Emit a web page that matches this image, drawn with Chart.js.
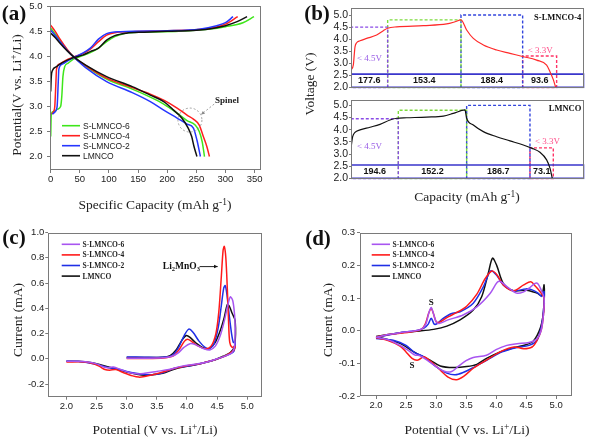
<!DOCTYPE html>
<html><head><meta charset="utf-8">
<script src="https://cdn.jsdelivr.net/npm/chart.js@4.4.0/dist/chart.umd.min.js"></script>
<style>
html,body{margin:0;padding:0;background:#fff;width:614px;height:444px;overflow:hidden;position:relative}
canvas{position:absolute}
.t{position:absolute;white-space:nowrap;font-family:"Liberation Serif","DejaVu Serif",serif;color:#222;transform:translate(-50%,-50%);line-height:1}
.rot{transform:translate(-50%,-50%) rotate(-90deg)}
.pl{font-weight:bold;font-size:21px;color:#111}
.ax{font-size:13.5px}
sup{font-size:70%;vertical-align:0;position:relative;top:-0.45em}
</style></head><body>
<canvas id="ca"></canvas><canvas id="cb1"></canvas><canvas id="cb2"></canvas><canvas id="cc"></canvas><canvas id="cd"></canvas>
<div class="t pl" style="left:14px;top:13px">(a)</div>
<div class="t pl" style="left:317px;top:13px">(b)</div>
<div class="t pl" style="left:14px;top:237px">(c)</div>
<div class="t pl" style="left:318px;top:238px">(d)</div>
<div class="t ax" style="left:155px;top:205px">Specific Capacity (mAh g<sup>-1</sup>)</div>
<div class="t ax rot" style="left:17px;top:95px">Potential(V vs. Li<sup>+</sup>/Li)</div>
<div class="t ax" style="left:467px;top:197px">Capacity (mAh g<sup>-1</sup>)</div>
<div class="t ax rot" style="left:310px;top:84px">Voltage (V)</div>
<div class="t ax" style="left:155px;top:430px">Potential (V vs. Li<sup>+</sup>/Li)</div>
<div class="t ax rot" style="left:18px;top:320px">Current (mA)</div>
<div class="t ax" style="left:467px;top:430px">Potential (V vs. Li<sup>+</sup>/Li)</div>
<div class="t ax rot" style="left:328px;top:320px">Current (mA)</div>
<script>
// ================= DATA =================
const seriesNames = ['S-LMNCO-6', 'S-LMNCO-4', 'S-LMNCO-2', 'LMNCO'];

// (a) first charge / discharge profiles: [capacity mAh/g, potential V]
const aChargeS6 = [[0,2.4],[1,2.85],[5,2.9],[12,2.95],[17,3.0],[19,3.2],[21,3.6],[24,3.8],[30,3.87],[39,3.95],[55,4.02],[68,4.08],[82,4.17],[96,4.3],[110,4.4],[125,4.46],[160,4.49],[220,4.51],[270,4.55],[300,4.6],[330,4.68],[349,4.8]];
const aChargeS4 = [[2,2.85],[5,2.9],[7,3.0],[9,3.5],[10,3.75],[15,3.85],[25,3.92],[39,3.99],[55,4.06],[68,4.15],[82,4.3],[96,4.43],[110,4.48],[140,4.5],[200,4.52],[250,4.54],[280,4.58],[300,4.65],[321,4.8]];
const aChargeS2 = [[3,2.85],[8,2.9],[11,3.0],[13,3.5],[14,3.75],[20,3.85],[30,3.92],[39,3.98],[55,4.07],[68,4.17],[82,4.35],[96,4.46],[120,4.5],[200,4.52],[255,4.55],[285,4.62],[300,4.68],[313,4.8]];
const aChargeL  = [[0,3.3],[1,3.6],[3,3.72],[10,3.8],[20,3.88],[39,3.98],[55,4.03],[68,4.1],[82,4.17],[96,4.33],[110,4.42],[130,4.47],[160,4.49],[200,4.51],[250,4.53],[280,4.57],[300,4.62],[320,4.7],[337,4.8]];
const aDischS6 = [[0,4.57],[8,4.45],[16,4.32],[28,4.14],[39,4.0],[60,3.81],[96,3.55],[140,3.35],[171,3.19],[194,3.05],[217,2.87],[234,2.72],[248,2.63],[255,2.5],[260,2.3],[264,2.0]];
const aDischS4 = [[0,4.63],[8,4.5],[16,4.35],[28,4.15],[39,4.0],[60,3.82],[96,3.57],[140,3.38],[171,3.25],[194,3.13],[217,2.97],[234,2.83],[245,2.75],[255,2.63],[262,2.4],[268,2.2],[272.5,2.0]];
const aDischS2 = [[0,4.53],[8,4.42],[16,4.3],[28,4.13],[39,4.0],[60,3.78],[96,3.5],[140,3.28],[171,3.1],[194,2.93],[217,2.77],[234,2.65],[245,2.57],[251,2.33],[257,2.0]];
const aDischL  = [[0,4.47],[8,4.38],[16,4.27],[28,4.12],[39,4.0],[60,3.83],[96,3.6],[140,3.4],[171,3.23],[194,3.1],[211,2.93],[225,2.77],[236,2.57],[242,2.4],[246,2.2],[251,2.0]];
const aXTicks = [0,50,100,150,200,250,300,350];
const aYTicks = [2.0,2.5,3.0,3.5,4.0,4.5,5.0];
const aSpinelCircle = [239, 2.73];
const aSpinelLabel = [282, 3.12];
const aSpinelArrow = [[280.6,3.05],[258.2,2.84]];

// (b) capacity segmentation (capacity axis 0..700 along charge+discharge)
const bTopCurve = [[0,2.72],[7,2.93],[10,3.4],[12,3.68],[17,3.85],[27,3.93],[47,4.03],[77,4.17],[97,4.35],[110,4.45],[137,4.51],[217,4.56],[287,4.63],[312,4.72],[330,4.8],[347,4.38],[367,4.03],[397,3.76],[437,3.55],[477,3.41],[515,3.28],[557,3.13],[587,2.92],[597,2.65],[607,2.32],[614,2.0]];
const bBotCurve = [[0,3.24],[5,3.71],[12,3.89],[27,3.99],[57,4.1],[87,4.22],[117,4.4],[137,4.47],[167,4.49],[227,4.52],[277,4.56],[307,4.67],[342,4.81],[347,4.47],[367,4.19],[397,3.92],[437,3.71],[477,3.54],[517,3.37],[542,3.24],[567,3.07],[587,2.76],[597,2.42],[604,2.0]];
const bTopEdges = [0,110,330,515,617];
const bTopLevels = [4.5,4.8,5.0,3.3];
const bTopValues = ['177.6','153.4','188.4','93.6'];
const bBotEdges = [0,142,347,537,607];
const bBotLevels = [4.45,4.8,5.0,3.25];
const bBotValues = ['194.6','152.2','186.7','73.1'];
const bBandRange = [2.0, 2.55];
const bYTicks = [2.0,2.5,3.0,3.5,4.0,4.5,5.0];
const bSampleTop = 'S-LMNCO-4';
const bSampleBot = 'LMNCO';

// (c) first CV cycle: [potential V, current mA]
const cS6 = [[3.0,0.005],[3.3,0.005],[3.6,0.008],[3.75,0.02],[3.85,0.045],[3.95,0.09],[4.05,0.12],[4.15,0.11],[4.28,0.08],[4.38,0.07],[4.47,0.1],[4.55,0.18],[4.62,0.3],[4.68,0.43],[4.72,0.49],[4.76,0.46],[4.79,0.35],[4.8,0.25],[4.79,0.1],[4.75,0.05],[4.65,0.025],[4.5,0.0],[4.3,-0.03],[4.1,-0.045],[3.9,-0.06],[3.7,-0.085],[3.5,-0.1],[3.3,-0.115],[3.2,-0.12],[3.05,-0.11],[2.9,-0.085],[2.78,-0.065],[2.7,-0.07],[2.62,-0.065],[2.5,-0.04],[2.35,-0.025],[2.2,-0.02],[2.0,-0.02]];
const cS4 = [[3.0,0.003],[3.4,0.003],[3.65,0.008],[3.78,0.025],[3.88,0.08],[3.96,0.14],[4.01,0.155],[4.07,0.14],[4.17,0.105],[4.3,0.08],[4.4,0.1],[4.48,0.2],[4.53,0.38],[4.57,0.65],[4.6,0.86],[4.62,0.89],[4.645,0.8],[4.67,0.55],[4.69,0.3],[4.71,0.13],[4.75,0.09],[4.8,0.1],[4.78,0.07],[4.7,0.04],[4.6,0.015],[4.45,-0.01],[4.25,-0.035],[4.0,-0.055],[3.8,-0.075],[3.6,-0.105],[3.45,-0.125],[3.3,-0.14],[3.2,-0.145],[3.1,-0.135],[2.95,-0.11],[2.82,-0.085],[2.72,-0.09],[2.64,-0.085],[2.55,-0.06],[2.45,-0.04],[2.3,-0.025],[2.0,-0.025]];
const cS2 = [[3.0,0.015],[3.3,0.012],[3.6,0.012],[3.75,0.025],[3.85,0.08],[3.95,0.18],[4.03,0.235],[4.1,0.21],[4.2,0.14],[4.3,0.09],[4.37,0.08],[4.45,0.12],[4.52,0.25],[4.57,0.42],[4.61,0.56],[4.635,0.58],[4.66,0.52],[4.7,0.35],[4.74,0.2],[4.77,0.13],[4.8,0.13],[4.78,0.06],[4.7,0.035],[4.6,0.015],[4.45,-0.01],[4.25,-0.035],[4.0,-0.06],[3.8,-0.075],[3.6,-0.11],[3.45,-0.125],[3.3,-0.125],[3.15,-0.115],[3.0,-0.1],[2.85,-0.08],[2.7,-0.07],[2.55,-0.05],[2.4,-0.035],[2.2,-0.022],[2.0,-0.02]];
const cL = [[3.0,0.01],[3.3,0.01],[3.6,0.012],[3.72,0.025],[3.82,0.07],[3.92,0.15],[3.99,0.185],[4.05,0.17],[4.15,0.125],[4.28,0.085],[4.38,0.085],[4.47,0.13],[4.55,0.22],[4.62,0.33],[4.67,0.43],[4.7,0.42],[4.75,0.36],[4.8,0.3],[4.79,0.1],[4.72,0.05],[4.6,0.02],[4.45,-0.01],[4.25,-0.035],[4.0,-0.06],[3.8,-0.08],[3.6,-0.115],[3.45,-0.125],[3.3,-0.13],[3.15,-0.12],[3.0,-0.105],[2.85,-0.085],[2.7,-0.065],[2.55,-0.045],[2.4,-0.03],[2.2,-0.02],[2.0,-0.02]];
const cXTicks = [2.0,2.5,3.0,3.5,4.0,4.5,5.0];
const cYTicks = [-0.2,0.0,0.2,0.4,0.6,0.8,1.0];
const cLabelAt = [3.6, 0.73];
const cArrow = [[4.21,0.73],[4.51,0.73]];

// (d) CV after cycling: [potential V, current mA]
const dS6 = [[2.0,-0.02],[2.2,-0.012],[2.4,-0.006],[2.6,-0.002],[2.75,0.004],[2.83,0.02],[2.88,0.055],[2.92,0.071],[2.96,0.05],[3.0,0.028],[3.05,0.022],[3.2,0.033],[3.45,0.048],[3.68,0.073],[3.9,0.114],[4.02,0.148],[4.08,0.15],[4.18,0.135],[4.34,0.115],[4.45,0.118],[4.55,0.13],[4.65,0.145],[4.7,0.143],[4.75,0.125],[4.8,0.1],[4.79,0.05],[4.75,0.0],[4.68,-0.025],[4.55,-0.036],[4.35,-0.04],[4.18,-0.045],[4.0,-0.058],[3.84,-0.075],[3.62,-0.082],[3.5,-0.092],[3.38,-0.108],[3.26,-0.125],[3.15,-0.125],[3.0,-0.11],[2.85,-0.09],[2.72,-0.076],[2.65,-0.075],[2.55,-0.062],[2.4,-0.045],[2.2,-0.028],[2.0,-0.02]];
const dS4 = [[2.0,-0.02],[2.2,-0.012],[2.4,-0.008],[2.6,-0.003],[2.75,0.003],[2.82,0.02],[2.88,0.055],[2.92,0.068],[2.96,0.05],[3.0,0.028],[3.05,0.025],[3.18,0.04],[3.34,0.055],[3.51,0.075],[3.68,0.112],[3.82,0.16],[3.93,0.183],[4.02,0.17],[4.12,0.14],[4.29,0.122],[4.46,0.14],[4.58,0.15],[4.66,0.135],[4.73,0.12],[4.8,0.1],[4.79,0.05],[4.75,0.0],[4.68,-0.03],[4.6,-0.05],[4.46,-0.055],[4.3,-0.05],[4.1,-0.062],[3.84,-0.09],[3.62,-0.115],[3.46,-0.14],[3.34,-0.15],[3.2,-0.142],[3.02,-0.112],[2.85,-0.085],[2.79,-0.08],[2.7,-0.09],[2.6,-0.085],[2.5,-0.065],[2.4,-0.047],[2.2,-0.03],[2.0,-0.022]];
const dS2 = [[2.0,-0.022],[2.2,-0.013],[2.4,-0.006],[2.6,-0.002],[2.8,0.008],[2.87,0.02],[2.92,0.038],[2.97,0.02],[3.02,0.022],[3.1,0.035],[3.25,0.052],[3.4,0.058],[3.62,0.084],[3.79,0.135],[3.91,0.183],[4.01,0.17],[4.12,0.14],[4.29,0.122],[4.5,0.128],[4.6,0.125],[4.7,0.115],[4.76,0.105],[4.8,0.12],[4.79,0.06],[4.75,0.01],[4.68,-0.03],[4.55,-0.045],[4.33,-0.052],[4.1,-0.065],[3.85,-0.09],[3.6,-0.115],[3.45,-0.128],[3.32,-0.135],[3.18,-0.13],[3.0,-0.11],[2.8,-0.08],[2.65,-0.068],[2.5,-0.045],[2.3,-0.03],[2.0,-0.024]];
const dL = [[2.0,-0.018],[2.4,-0.006],[2.73,-0.001],[2.96,0.004],[3.18,0.014],[3.4,0.033],[3.62,0.063],[3.76,0.104],[3.87,0.176],[3.94,0.222],[4.01,0.2],[4.12,0.145],[4.29,0.122],[4.51,0.124],[4.68,0.115],[4.76,0.108],[4.8,0.14],[4.79,0.06],[4.74,0.01],[4.62,-0.032],[4.5,-0.043],[4.29,-0.052],[4.07,-0.065],[3.84,-0.085],[3.68,-0.103],[3.51,-0.11],[3.29,-0.113],[3.07,-0.108],[2.9,-0.09],[2.62,-0.064],[2.4,-0.039],[2.0,-0.018]];
const dXTicks = [2.0,2.5,3.0,3.5,4.0,4.5,5.0];
const dYTicks = [-0.2,-0.1,0.0,0.1,0.2,0.3];
const dSLabels = [[2.92,0.086],[2.6,-0.108]];

// ================= STYLE / HELPERS =================
const FRAME = '#7a7a7a';
const SANS = '"Liberation Sans", Arial, sans-serif';
const SERIF = '"Liberation Serif", "Times New Roman", serif';
const TICKFONT = {family: SANS, size: 9.5};
const TICKFONT_B = {family: SANS, size: 10.5};
const colA = ['#3ee61a', '#ff1f1f', '#2636ff', '#111111'];
const colC = ['#a855f0', '#ff1a1a', '#1f2fe6', '#111111'];
const bBoxColors = ['#8a4be6', '#7edc3c', '#3345dd', '#ff3366'];

function toXY(a){ return a.map(p => ({x: p[0], y: p[1]})); }
function lineDS(data, color, width, extra){
  return Object.assign({data: toXY(data), showLine: true, borderColor: color, backgroundColor: color,
    borderWidth: width, pointRadius: 0, pointHoverRadius: 0, fill: false}, extra || {});
}
function axis(min, max, ticks, size, horizontal, fmt, tl, pad, show, font){
  return {
    type: 'linear', min: min, max: max, display: show !== false,
    afterBuildTicks: s => { s.ticks = ticks.map(v => ({value: v})); },
    afterFit: s => {
      if (horizontal) { s.height = size; s.paddingLeft = 0; s.paddingRight = 0; }
      else { s.width = size; s.paddingTop = 0; s.paddingBottom = 0; }
    },
    ticks: {autoSkip: false, maxRotation: 0, minRotation: 0, padding: pad, color: '#222', font: font || TICKFONT, callback: v => fmt(v)},
    grid: {display: true, drawOnChartArea: false, drawTicks: true, tickLength: tl, color: FRAME, lineWidth: 1},
    border: {display: false}
  };
}
const framePlugin = {id: 'frame', afterDraw(chart){
  const a = chart.chartArea, c = chart.ctx;
  c.save(); c.strokeStyle = FRAME; c.lineWidth = 1;
  c.strokeRect(Math.round(a.left) + 0.5, Math.round(a.top) + 0.5, Math.round(a.right) - Math.round(a.left) - 1, Math.round(a.bottom) - Math.round(a.top) - 1);
  c.restore();
}};
function legendPlugin(names, colors, x, y0, dy, len, font, gap){
  return {id: 'lg', afterDraw(chart){
    const c = chart.ctx; c.save();
    names.forEach((n, i) => {
      const y = y0 + i * dy;
      c.strokeStyle = colors[i]; c.lineWidth = 1.6; c.beginPath(); c.moveTo(x, y); c.lineTo(x + len, y); c.stroke();
      c.fillStyle = '#222'; c.font = font; c.textBaseline = 'middle'; c.textAlign = 'left';
      c.fillText(n, x + len + gap, y + 0.5);
    });
    c.restore();
  }};
}
function arrow(c, x1, y1, x2, y2, head){
  const ang = Math.atan2(y2 - y1, x2 - x1);
  c.beginPath(); c.moveTo(x1, y1); c.lineTo(x2, y2); c.stroke();
  c.setLineDash([]);
  c.beginPath(); c.moveTo(x2, y2);
  c.lineTo(x2 - head * Math.cos(ang - 0.45), y2 - head * Math.sin(ang - 0.45));
  c.lineTo(x2 - head * Math.cos(ang + 0.45), y2 - head * Math.sin(ang + 0.45));
  c.closePath(); c.fill();
}
function makeChart(id, box, area, datasets, xAx, yAx, plugins, xShown){
  const cv = document.getElementById(id);
  cv.style.left = box.x + 'px'; cv.style.top = box.y + 'px';
  cv.width = box.w; cv.height = box.h; cv.style.width = box.w + 'px'; cv.style.height = box.h + 'px';
  return new Chart(cv.getContext('2d'), {
    type: 'scatter',
    data: {datasets: datasets},
    options: {
      responsive: false, maintainAspectRatio: false, animation: false, devicePixelRatio: 1, events: [],
      layout: {autoPadding: false, padding: {left: 0, top: area.top, right: box.w - area.right, bottom: xShown ? 0 : box.h - area.bottom}},
      scales: {x: xAx, y: yAx},
      plugins: {legend: {display: false}, tooltip: {enabled: false}}
    },
    plugins: [framePlugin].concat(plugins || [])
  });
}
const f0 = v => String(Math.round(v));
const f1 = v => Number(v).toFixed(1);

// ================= PANEL (a) =================
(function(){
  const box = {x: 0, y: 0, w: 300, h: 220};
  const area = {left: 50, top: 5.7, right: 261, bottom: 170};
  const mono = {cubicInterpolationMode: 'monotone'};
  const ds = [
    lineDS(aChargeL, colA[3], 1.5, mono), lineDS(aDischL, colA[3], 1.5, mono),
    lineDS(aChargeS2, colA[2], 1.5, mono), lineDS(aDischS2, colA[2], 1.5, mono),
    lineDS(aChargeS4, colA[1], 1.5, mono), lineDS(aDischS4, colA[1], 1.5, mono),
    lineDS(aChargeS6, colA[0], 1.5, mono), lineDS(aDischS6, colA[0], 1.5, mono)
  ];
  const annot = {id: 'aAnnot', afterDatasetsDraw(chart){
    const c = chart.ctx, x = chart.scales.x, y = chart.scales.y;
    c.save();
    c.strokeStyle = '#a0a0a0'; c.fillStyle = '#888'; c.lineWidth = 1; c.setLineDash([2, 2]);
    c.beginPath(); c.arc(x.getPixelForValue(aSpinelCircle[0]), y.getPixelForValue(aSpinelCircle[1]), 12, 0, Math.PI * 2); c.stroke();
    c.setLineDash([2, 2]);
    arrow(c, x.getPixelForValue(aSpinelArrow[0][0]), y.getPixelForValue(aSpinelArrow[0][1]),
             x.getPixelForValue(aSpinelArrow[1][0]), y.getPixelForValue(aSpinelArrow[1][1]), 4);
    c.fillStyle = '#222'; c.font = 'bold 9px ' + SERIF; c.textBaseline = 'middle'; c.textAlign = 'left';
    c.fillText('Spinel', x.getPixelForValue(aSpinelLabel[0]), y.getPixelForValue(aSpinelLabel[1]));
    c.restore();
  }};
  makeChart('ca', box, area, ds,
    axis(-1.2, 361, aXTicks, box.h - area.bottom, true, f0, 3, 1),
    axis(1.73, 5.02, aYTicks, area.left, false, f1, 3, 4.5),
    [annot, legendPlugin(seriesNames, colA, 62, 125.7, 10, 18, '8.5px ' + SANS, 3)], true);
})();

// ================= PANEL (b) =================
function boxPath(x0, x1, top, bottom){ return [[x0, bottom], [x0, top], [x1, top], [x1, bottom], [x0, bottom]]; }
function panelB(id, box, area, curve, curveColor, edges, levels, values, sample, ymax, ytextLow, ytextHigh){
  const ds = [lineDS(curve, curveColor, 1.2, {cubicInterpolationMode: 'monotone'})];
  ds.push(lineDS(boxPath(0, 700, bBandRange[1], bBandRange[0]), '#3a36cc', 1.6));
  for (let i = 0; i < 4; i++) {
    ds.push(lineDS(boxPath(edges[i], edges[i + 1], levels[i], 1.975), bBoxColors[i], 1.4, {borderDash: [3, 2]}));
  }
  const annot = {id: 'bAnnot', afterDatasetsDraw(chart){
    const c = chart.ctx, x = chart.scales.x, y = chart.scales.y, a = chart.chartArea;
    c.save();
    c.fillStyle = '#111'; c.font = 'bold 9px ' + SANS; c.textAlign = 'center'; c.textBaseline = 'middle';
    const yc = y.getPixelForValue((bBandRange[0] + bBandRange[1]) / 2);
    for (let i = 0; i < 4; i++) {
      c.fillText(values[i], (x.getPixelForValue(edges[i]) + x.getPixelForValue(edges[i + 1])) / 2, yc);
    }
    c.font = '9px ' + SERIF; c.textAlign = 'left';
    c.fillStyle = '#9a5ee6';
    c.fillText('< 4.5V', x.getPixelForValue(edges[0]) + 6, y.getPixelForValue(ytextLow));
    c.fillStyle = '#ff4d88';
    c.fillText('< 3.3V', x.getPixelForValue(edges[3]) + 5, y.getPixelForValue(ytextHigh));
    c.fillStyle = '#111'; c.font = 'bold 8.5px ' + SERIF; c.textAlign = 'right';
    c.fillText(sample, a.right - 3, a.top + 9);
    c.restore();
  }};
  makeChart(id, box, area, ds,
    axis(0, 700, [], 0, true, f0, 0, 0, false),
    axis(1.96, ymax, bYTicks, area.left, false, f1, 2, 1, true, TICKFONT_B),
    [annot], false);
}
panelB('cb1', {x: 300, y: 0, w: 314, h: 94}, {left: 51, top: 8.3, right: 284.3, bottom: 88.3},
  bTopCurve, '#ff2a2a', bTopEdges, bTopLevels, bTopValues, bSampleTop, 5.28, 3.2, 3.52);
panelB('cb2', {x: 300, y: 94, w: 314, h: 126}, {left: 51, top: 6, right: 284.3, bottom: 85.3},
  bBotCurve, '#111111', bBotEdges, bBotLevels, bBotValues, bSampleBot, 5.22, 3.3, 3.51);

// ================= PANEL (c) =================
(function(){
  const box = {x: 0, y: 220, w: 300, h: 224};
  const area = {left: 48.3, top: 12.5, right: 261.7, bottom: 176.7};
  const ds = [lineDS(cS6, colC[0], 1.5, {tension: 0.3}), lineDS(cS4, colC[1], 1.5, {tension: 0.3}),
              lineDS(cS2, colC[2], 1.5, {tension: 0.3}), lineDS(cL, colC[3], 1.5, {tension: 0.3})];
  const annot = {id: 'cAnnot', afterDatasetsDraw(chart){
    const c = chart.ctx, x = chart.scales.x, y = chart.scales.y;
    c.save();
    c.fillStyle = '#111'; c.textBaseline = 'middle'; c.textAlign = 'left';
    let px = x.getPixelForValue(cLabelAt[0]); const py = y.getPixelForValue(cLabelAt[1]);
    const parts = [['Li', 0], ['2', 1], ['MnO', 0], ['3', 1]];
    parts.forEach(p => {
      c.font = (p[1] ? 'bold 6.5px ' : 'bold 9.5px ') + SERIF;
      c.fillText(p[0], px, py + (p[1] ? 3 : 0));
      px += c.measureText(p[0]).width;
    });
    c.strokeStyle = '#222'; c.lineWidth = 1;
    arrow(c, x.getPixelForValue(cArrow[0][0]), y.getPixelForValue(cArrow[0][1]),
             x.getPixelForValue(cArrow[1][0]), y.getPixelForValue(cArrow[1][1]), 4);
    c.restore();
  }};
  makeChart('cc', box, area, ds,
    axis(1.7, 5.24, cXTicks, box.h - area.bottom, true, f1, 3, 1),
    axis(-0.3, 1.0, cYTicks, area.left, false, f1, 3, 1),
    [annot, legendPlugin(seriesNames, colC, 61.7, 24.3, 10.6, 18.3, 'bold 7.5px ' + SERIF, 2.5)], true);
})();

// ================= PANEL (d) =================
(function(){
  const box = {x: 300, y: 220, w: 314, h: 224};
  const area = {left: 60, top: 12.7, right: 271.7, bottom: 176};
  const ds = [lineDS(dS6, colC[0], 1.5, {tension: 0.3}), lineDS(dS4, colC[1], 1.5, {tension: 0.3}),
              lineDS(dS2, colC[2], 1.5, {tension: 0.3}), lineDS(dL, colC[3], 1.5, {tension: 0.3})];
  const annot = {id: 'dAnnot', afterDatasetsDraw(chart){
    const c = chart.ctx, x = chart.scales.x, y = chart.scales.y;
    c.save(); c.fillStyle = '#111'; c.font = 'bold 9px ' + SERIF; c.textAlign = 'center'; c.textBaseline = 'middle';
    dSLabels.forEach(p => c.fillText('S', x.getPixelForValue(p[0]), y.getPixelForValue(p[1])));
    c.restore();
  }};
  makeChart('cd', box, area, ds,
    axis(1.733, 5.26, dXTicks, box.h - area.bottom, true, f1, 3, 1),
    axis(-0.2, 0.3, dYTicks, area.left, false, f1, 3, 2),
    [annot, legendPlugin(seriesNames, colC, 71.7, 24.3, 10.6, 18.3, 'bold 7.5px ' + SERIF, 2.5)], true);
})();
</script>
</body></html>
